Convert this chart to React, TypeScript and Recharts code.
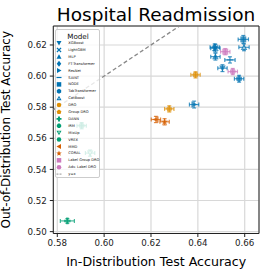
import { ScatterChart, Scatter, XAxis, YAxis, CartesianGrid, ErrorBar, ReferenceLine, ReferenceArea } from 'recharts'

const MODELS = [
  'XGBoost', 'LightGBM', 'MLP', 'FT-Transformer', 'ResNet', 'SAINT', 'NODE', 'TabTransformer', 'CatBoost',
  'DRO', 'Group DRO', 'DANN', 'IRM', 'MixUp', 'VREX', 'MMD', 'CORAL', 'Label Group DRO', 'Adv. Label DRO',
]
// in-distribution / out-of-distribution test accuracy (null = not visible)
const ID_ACC = [0.6505, 0.6475, 0.6475, 0.6472, 0.6384, 0.6537, 0.6594, 0.6576, 0.6597, 0.639, 0.6278, 0.5843, 0.5904, 0.594, null, 0.6221, 0.6258, 0.6517, 0.6549]
const OOD_ACC = [0.6051, 0.6179, 0.6125, 0.6185, 0.5817, 0.6104, 0.6236, 0.5983, 0.6185, 0.6008, 0.5789, 0.5069, 0.5681, 0.5505, null, 0.5721, 0.5706, 0.6157, 0.6029]
const ID_ERR = [0.002, 0.002, 0.002, 0.002, 0.002, 0.0022, 0.0022, 0.002, 0.0022, 0.002, 0.002, 0.003, 0.002, 0.002, null, 0.002, 0.002, 0.002, 0.002]
const OOD_ERR = [0.0022, 0.0025, 0.0022, 0.0022, 0.0022, 0.002, 0.0025, 0.0022, 0.0022, 0.002, 0.002, 0.0015, 0.002, 0.002, null, 0.002, 0.002, 0.002, 0.002]

const X_TICKS = [0.58, 0.6, 0.62, 0.64, 0.66]
const Y_TICKS = [0.5, 0.52, 0.54, 0.56, 0.58, 0.6, 0.62]
const X_DOMAIN = [0.5783, 0.6661]
const Y_DOMAIN = [0.4988, 0.6322]

const BLUE = '#0173b2'
const GOLD = '#de8f05'
const TEAL = '#029e73'
const ORANGE = '#d55e00'
const PINK = '#cc78bc'
const COLORS = [BLUE, BLUE, BLUE, BLUE, BLUE, BLUE, BLUE, BLUE, BLUE, GOLD, GOLD, TEAL, TEAL, TEAL, TEAL, ORANGE, ORANGE, PINK, PINK]
const MARKERS = ['v', 'X', '^', 'D', '>', '_', 's', 'h', 'A', 'o', 'p', 'P', '8', 'V', 'o', '<', '*', 's', 'o']

const FONT = 'DejaVu Sans, sans-serif'

function reg(cx: number, cy: number, n: number, r: number, rot: number) {
  const pts = []
  for (let i = 0; i < n; i++) {
    const a = rot + (i * 2 * Math.PI) / n
    pts.push(`${cx + r * Math.cos(a)},${cy + r * Math.sin(a)}`)
  }
  return pts.join(' ')
}

function Mark({ kind, cx, cy, r, color, op }: { kind: string; cx: number; cy: number; r: number; color: string; op: number }) {
  const k = r
  const common = { fill: color, fillOpacity: op }
  switch (kind) {
    case 'v':
      return <path d={`M${cx - k},${cy - k * 0.8}L${cx + k},${cy - k * 0.8}L${cx},${cy + k}Z`} {...common} />
    case '^':
      return <path d={`M${cx - k},${cy + k * 0.8}L${cx + k},${cy + k * 0.8}L${cx},${cy - k}Z`} {...common} />
    case 'A':
      return (
        <g>
          <path d={`M${cx - k},${cy + k * 0.8}L${cx + k},${cy + k * 0.8}L${cx},${cy - k}Z`} {...common} />
          <path d={`M${cx - k * 0.4},${cy + k * 0.45}L${cx + k * 0.4},${cy + k * 0.45}L${cx},${cy - k * 0.3}Z`} fill="#fff" fillOpacity={0.7} />
        </g>
      )
    case 'V':
      return (
        <g>
          <path d={`M${cx - k},${cy - k * 0.8}L${cx + k},${cy - k * 0.8}L${cx},${cy + k}Z`} {...common} />
          <path d={`M${cx - k * 0.45},${cy - k * 0.45}L${cx + k * 0.45},${cy - k * 0.45}L${cx},${cy + k * 0.35}Z`} fill="#fff" fillOpacity={0.7} />
        </g>
      )
    case '>':
      return <path d={`M${cx - k * 0.8},${cy - k}L${cx + k},${cy}L${cx - k * 0.8},${cy + k}Z`} {...common} />
    case '<':
      return <path d={`M${cx + k * 0.8},${cy - k}L${cx - k},${cy}L${cx + k * 0.8},${cy + k}Z`} {...common} />
    case 'D':
      return <path d={`M${cx},${cy - k * 1.2}L${cx + k * 0.9},${cy}L${cx},${cy + k * 1.2}L${cx - k * 0.9},${cy}Z`} {...common} />
    case 's':
      return <rect x={cx - k * 0.9} y={cy - k * 0.9} width={k * 1.8} height={k * 1.8} {...common} />
    case 'o':
      return <circle cx={cx} cy={cy} r={k * 0.9} {...common} />
    case 'h':
      return <polygon points={reg(cx, cy, 6, k, -Math.PI / 2)} {...common} />
    case '8':
      return <polygon points={reg(cx, cy, 8, k * 0.95, Math.PI / 8)} {...common} />
    case 'p':
      return <polygon points={reg(cx, cy, 5, k, -Math.PI / 2)} {...common} />
    case 'X': {
      const t = k * 0.35
      const pts = [
        [0, -t], [k - t, -k], [k, -k + t], [t, 0], [k, k - t], [k - t, k],
        [0, t], [-k + t, k], [-k, k - t], [-t, 0], [-k, -k + t], [-k + t, -k],
      ]
      return <polygon points={pts.map(([a, b]) => `${cx + a},${cy + b}`).join(' ')} {...common} />
    }
    case 'P': {
      const t = k * 0.38
      const pts = [
        [-t, -k], [t, -k], [t, -t], [k, -t], [k, t], [t, t],
        [t, k], [-t, k], [-t, t], [-k, t], [-k, -t], [-t, -t],
      ]
      return <polygon points={pts.map(([a, b]) => `${cx + a},${cy + b}`).join(' ')} {...common} />
    }
    case '*': {
      const pts = []
      for (let i = 0; i < 10; i++) {
        const a = -Math.PI / 2 + (i * Math.PI) / 5
        const rr = i % 2 === 0 ? k * 1.15 : k * 0.5
        pts.push(`${cx + rr * Math.cos(a)},${cy + rr * Math.sin(a)}`)
      }
      return <polygon points={pts.join(' ')} {...common} />
    }
    case '_':
      return <line x1={cx - k} x2={cx + k} y1={cy} y2={cy} stroke={color} strokeOpacity={op} strokeWidth={1.2} />
    default:
      return <circle cx={cx} cy={cy} r={k} {...common} />
  }
}

function Legend() {
  const top = 14
  const step = 6.9
  return (
    <div
      style={{
        position: 'absolute',
        left: 54.5,
        top: 29,
        width: 45,
        height: 149,
        background: 'rgba(255,255,255,0.8)',
        border: '0.8px solid #cccccc',
        borderRadius: 2,
        boxSizing: 'border-box',
      }}
    >
      <svg width={45} height={149} style={{ position: 'absolute', left: -0.8, top: -0.8 }}>
        <text x={23} y={7.5} textAnchor="middle" dominantBaseline="central" fontFamily={FONT} fontSize={7.2} fill="#111">
          Model
        </text>
        {MODELS.map((m, i) => (
          <g key={m}>
            <Mark kind={MARKERS[i]} cx={4} cy={top + i * step} r={2.5} color={COLORS[i]} op={1} />
            <text x={13.3} y={top + i * step} dominantBaseline="central" fontFamily={FONT} fontSize={3.6} fill="#111">
              {m}
            </text>
          </g>
        ))}
        <line x1={1.5} x2={7} y1={top + MODELS.length * step} y2={top + MODELS.length * step} stroke="#888" strokeWidth={0.9} strokeDasharray="2 1" />
        <text x={13.3} y={top + MODELS.length * step} dominantBaseline="central" fontFamily={FONT} fontSize={3.6} fill="#111">
          y=x
        </text>
      </svg>
    </div>
  )
}

export default function App() {
  return (
    <div style={{ position: 'absolute', left: 0, top: 0, width: 266, height: 273, background: '#fff', fontFamily: FONT }}>
      <div
        style={{
          position: 'absolute',
          left: 53,
          width: 206,
          top: 3,
          textAlign: 'center',
          fontSize: 18.5,
          lineHeight: '24px',
          color: '#000',
        }}
      >
        Hospital Readmission
      </div>
      <ScatterChart width={266} height={273} margin={{ top: 26, right: 7, bottom: 0, left: 0 }}>
        <CartesianGrid stroke="#d8d8d8" strokeWidth={1.2} />
        <XAxis
          type="number"
          dataKey="x"
          domain={X_DOMAIN}
          ticks={X_TICKS}
          allowDataOverflow
          height={39.5}
          axisLine={false}
          tickSize={3.5}
          tickMargin={3}
          tickLine={{ stroke: '#222' }}
          tick={{ fontSize: 8.7, fill: '#222', fontFamily: FONT }}
          tickFormatter={(v: number) => v.toFixed(2)}
          label={{ value: 'In-Distribution Test Accuracy', position: 'insideBottom', offset: 7, fontSize: 12.6, fill: '#000', fontFamily: FONT }}
        />
        <YAxis
          type="number"
          dataKey="y"
          domain={Y_DOMAIN}
          ticks={Y_TICKS}
          allowDataOverflow
          width={53.3}
          axisLine={false}
          tickSize={3.5}
          tickMargin={3}
          tickLine={{ stroke: '#222' }}
          tick={{ fontSize: 8.7, fill: '#222', fontFamily: FONT }}
          tickFormatter={(v: number) => v.toFixed(2)}
          label={{ value: 'Out-of-Distribution Test Accuracy', angle: -90, position: 'insideLeft', offset: 6, fontSize: 12, fill: '#000', fontFamily: FONT, style: { textAnchor: 'middle' } }}
        />
        <ReferenceLine
          segment={[{ x: X_DOMAIN[0], y: X_DOMAIN[0] }, { x: Y_DOMAIN[1], y: Y_DOMAIN[1] }]}
          stroke="#888"
          strokeWidth={1.3}
          strokeDasharray="4 2.5"
          ifOverflow="hidden"
        />
        {MODELS.map((m, i) =>
          ID_ACC[i] == null ? null : (
            <Scatter
              key={m}
              name={m}
              data={[{ x: ID_ACC[i], y: OOD_ACC[i], ex: ID_ERR[i], ey: OOD_ERR[i] }]}
              isAnimationActive={false}
              shape={(p: any) => <Mark kind={MARKERS[i]} cx={p.cx} cy={p.cy} r={3.3} color={COLORS[i]} op={0.72} />}
            >
              <ErrorBar dataKey="ex" direction="x" width={2} stroke={COLORS[i]} strokeOpacity={0.72} strokeWidth={1.2} isAnimationActive={false} />
              <ErrorBar dataKey="ey" direction="y" width={2} stroke={COLORS[i]} strokeOpacity={0.72} strokeWidth={1.2} isAnimationActive={false} />
            </Scatter>
          ),
        )}
        <ReferenceArea x1={X_DOMAIN[0]} x2={X_DOMAIN[1]} y1={Y_DOMAIN[0]} y2={Y_DOMAIN[1]} fill="none" stroke="#222" strokeWidth={1} ifOverflow="visible" />
      </ScatterChart>
      <Legend />
    </div>
  )
}
